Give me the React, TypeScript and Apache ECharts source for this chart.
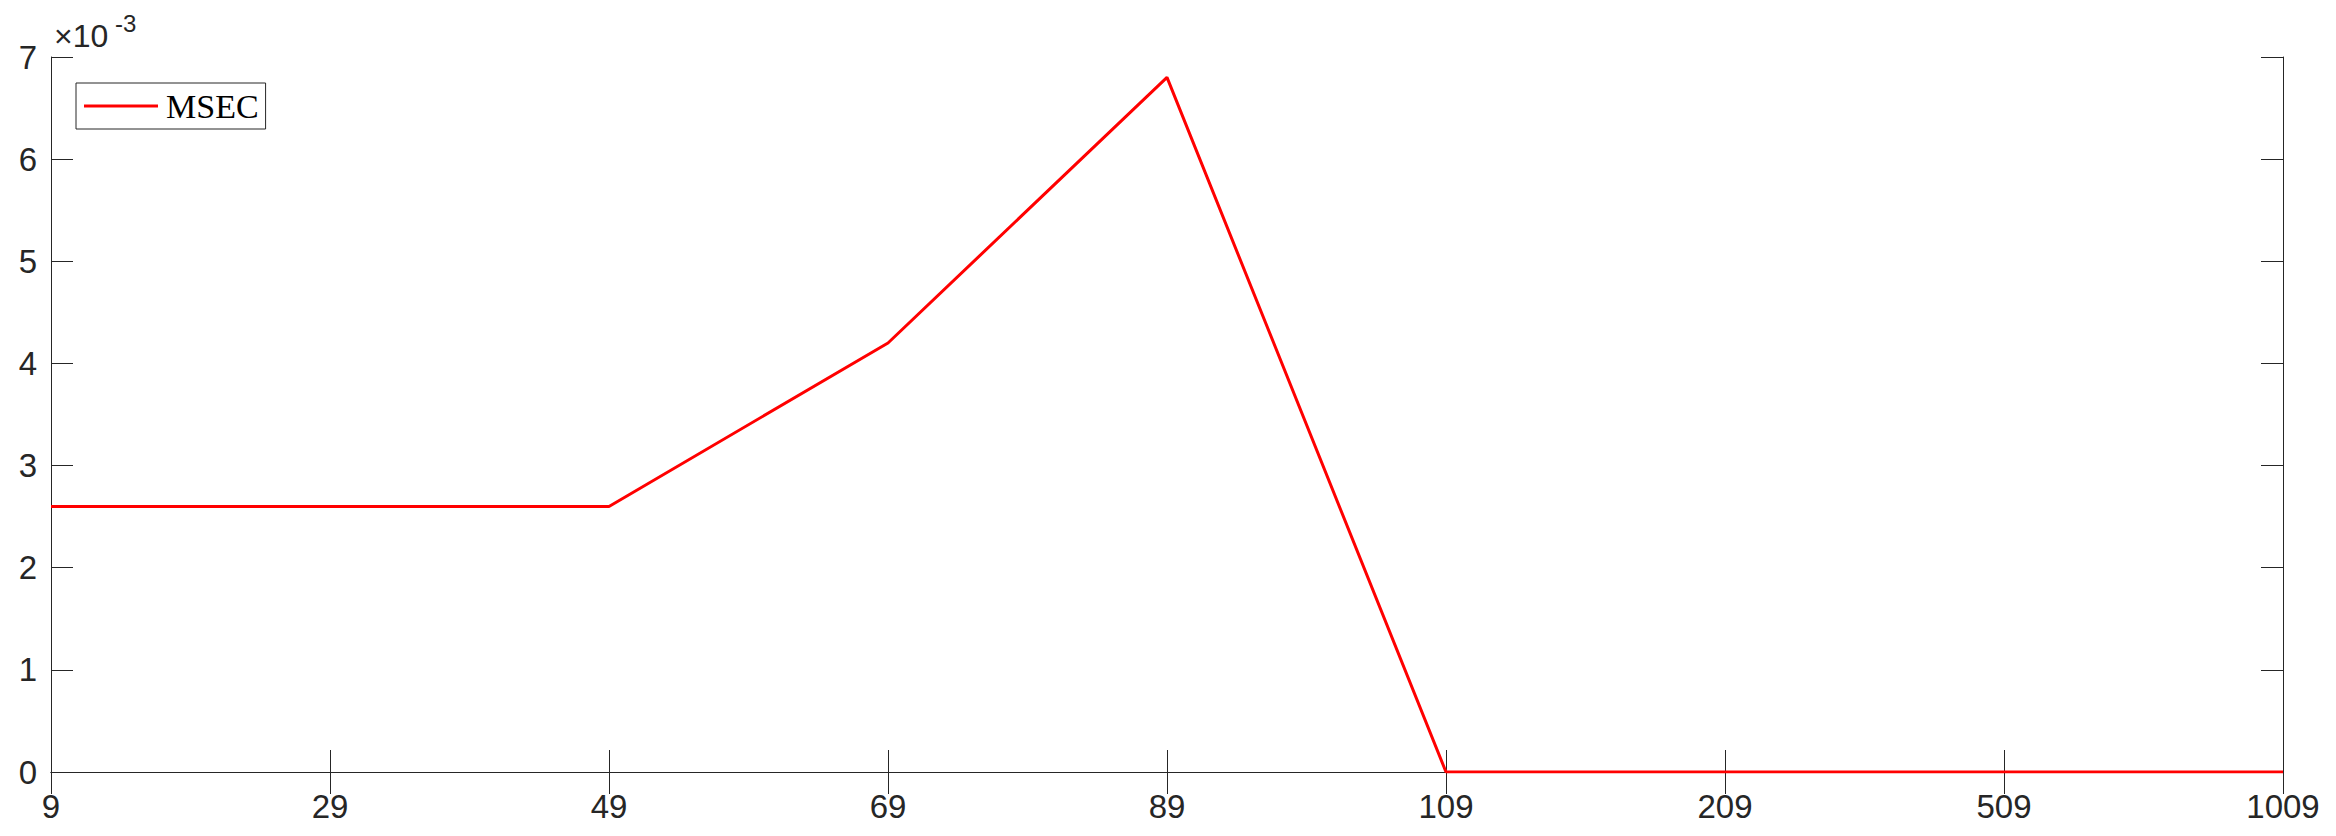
import React, { useEffect, useRef } from "react";
import * as echarts from "echarts";

const categories = ["9", "29", "49", "69", "89", "109", "209", "509", "1009"];
const msecValues = [0.0026, 0.0026, 0.0026, 0.0042, 0.0068, 0, 0, 0, 0];
const seriesName = "MSEC";
const yMin = 0;
const yMax = 0.007;
const yInterval = 0.001;
const exponentBase = "×10";
const exponentPower = "-3";

const axisColor = "#262626";
const sansFont = "'Liberation Sans', Arial, Helvetica, sans-serif";
const serifFont = "'Liberation Serif', 'Times New Roman', serif";

export default function App() {
  const ref = useRef<HTMLDivElement>(null);

  useEffect(() => {
    if (!ref.current) return;
    const chart = echarts.init(ref.current, undefined, { renderer: "svg" });
    const tickStyle = { show: true, inside: true, length: 22, lineStyle: { color: axisColor, width: 1 } };
    const lineStyle = { show: true, lineStyle: { color: axisColor, width: 1 } };
    chart.setOption({
      animation: false,
      backgroundColor: "#ffffff",
      grid: { left: 51, right: 53, top: 57, bottom: 64, containLabel: false },
      title: [
        {
          text: exponentBase,
          left: 54,
          top: 20,
          padding: 0,
          textStyle: { fontFamily: sansFont, fontSize: 32, fontWeight: "normal", color: axisColor },
        },
        {
          text: exponentPower,
          left: 115,
          top: 11,
          padding: 0,
          textStyle: { fontFamily: sansFont, fontSize: 24, fontWeight: "normal", color: axisColor },
        },
      ],
      legend: {
        show: true,
        left: 76,
        top: 83,
        orient: "vertical",
        padding: [6, 7, 6, 8],
        borderColor: "#262626",
        borderWidth: 1,
        backgroundColor: "#ffffff",
        icon: "rect",
        itemWidth: 74,
        itemHeight: 3,
        textStyle: { fontFamily: serifFont, fontSize: 34, color: "#000000", padding: [0, 0, 0, 3] },
        data: [seriesName],
      },
      xAxis: [
        {
          type: "category",
          data: categories,
          boundaryGap: false,
          position: "bottom",
          axisLine: lineStyle,
          axisTick: { ...tickStyle, alignWithLabel: true },
          axisLabel: { show: true, margin: 18, color: axisColor, fontFamily: sansFont, fontSize: 33 },
          splitLine: { show: false },
        },
        {
          type: "category",
          data: categories,
          boundaryGap: false,
          position: "top",
          axisLine: lineStyle,
          axisTick: tickStyle,
          axisLabel: { show: false },
          splitLine: { show: false },
        },
      ],
      yAxis: [
        {
          type: "value",
          min: yMin,
          max: yMax,
          interval: yInterval,
          position: "left",
          axisLine: lineStyle,
          axisTick: tickStyle,
          axisLabel: {
            show: true,
            margin: 14,
            color: axisColor,
            fontFamily: sansFont,
            fontSize: 33,
            formatter: (v: number) => String(Math.round(v * 1000)),
          },
          splitLine: { show: false },
        },
        {
          type: "value",
          min: yMin,
          max: yMax,
          interval: yInterval,
          position: "right",
          axisLine: lineStyle,
          axisTick: tickStyle,
          axisLabel: { show: false },
          splitLine: { show: false },
        },
      ],
      series: [
        {
          name: seriesName,
          type: "line",
          data: msecValues,
          xAxisIndex: 0,
          yAxisIndex: 0,
          symbol: "none",
          lineStyle: { color: "#ff0000", width: 3 },
          itemStyle: { color: "#ff0000" },
        },
      ],
    });
    return () => chart.dispose();
  }, []);

  return (
    <div
      ref={ref}
      style={{ position: "fixed", left: 0, top: 0, width: 2336, height: 836, background: "#fff" }}
    />
  );
}
